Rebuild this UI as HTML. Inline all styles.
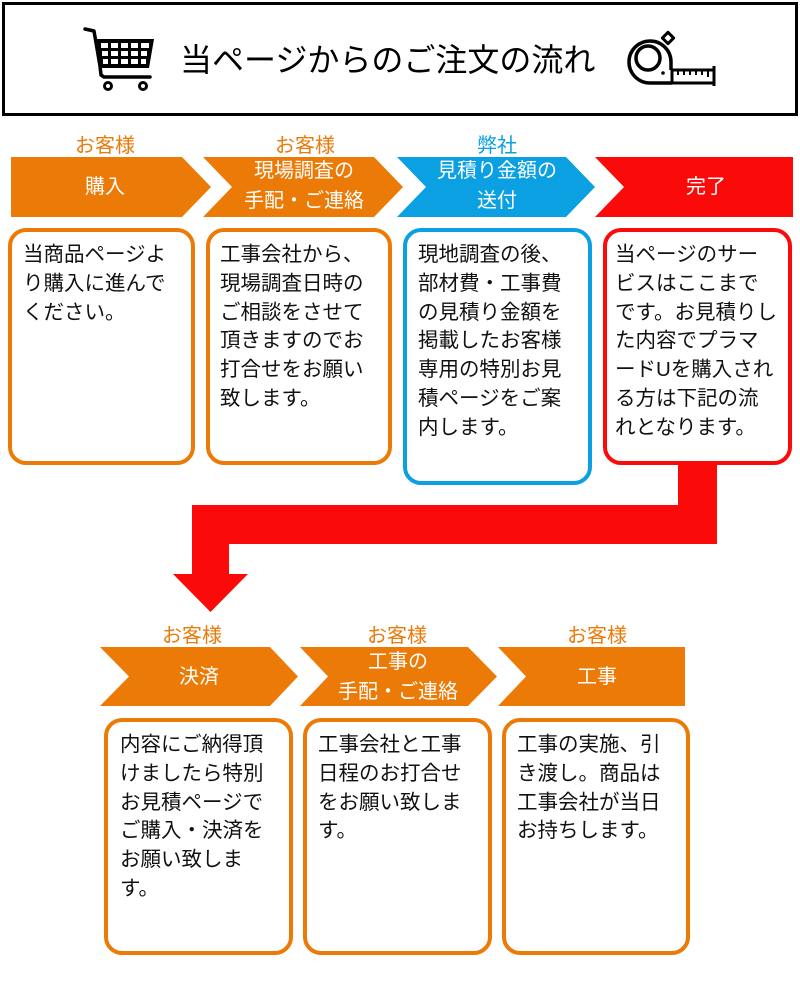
<!DOCTYPE html>
<html><head><meta charset="utf-8">
<style>
html,body{margin:0;padding:0;background:#fff;}
body{width:800px;height:1000px;position:relative;overflow:hidden;font-family:"Liberation Sans","Noto Sans CJK JP",sans-serif;}
svg{position:absolute;left:0;top:0;}
.t{position:absolute;white-space:nowrap;}
.lab{position:absolute;width:120px;text-align:center;font-size:20px;line-height:24px;color:#EA7A0A;}
.cv{position:absolute;width:200px;text-align:center;font-size:20px;line-height:30px;color:#fff;}
.bx{position:absolute;font-size:20.5px;line-height:28.8px;color:#111;white-space:nowrap;}
</style></head><body>
<svg width="800" height="1000" viewBox="0 0 800 1000">
  <!-- header box -->
  <rect x="3.5" y="3.5" width="793" height="111" fill="#fff" stroke="#000" stroke-width="3"/>
  <!-- cart -->
  <g fill="none" stroke="#000" stroke-width="3.5" stroke-linecap="round" stroke-linejoin="round">
    <polyline points="85,29 94,31 100,66 101,75 104,77 150,77"/>
    <circle cx="108" cy="86" r="3.5" stroke-width="3"/>
    <circle cx="143" cy="86" r="3.5" stroke-width="3"/>
  </g>
  <polygon points="96,39 154,39 149,68 101,68" fill="#000"/>
  <g fill="#fff">
    <rect x="101" y="43" width="7" height="5"/><rect x="111" y="43" width="7" height="5"/><rect x="121" y="43" width="7" height="5"/><rect x="131" y="43" width="7" height="5"/><rect x="141" y="43" width="8" height="5"/>
    <rect x="102" y="51" width="6" height="5"/><rect x="111" y="51" width="7" height="5"/><rect x="121" y="51" width="7" height="5"/><rect x="131" y="51" width="7" height="5"/><rect x="141" y="51" width="6" height="5"/>
    <rect x="103" y="59" width="5" height="5"/><rect x="111" y="59" width="7" height="5"/><rect x="121" y="59" width="7" height="5"/><rect x="131" y="59" width="7" height="5"/><rect x="141" y="59" width="5" height="5"/>
  </g>
  <!-- tape measure -->
  <g fill="none" stroke="#000" stroke-width="3.5" stroke-linejoin="round">
    <path d="M671,62 A21,21 0 1 0 650,83 L672,83"/>
    <path d="M671,62 L671,70"/>
    <circle cx="648" cy="58" r="12"/>
    <rect x="672" y="70" width="42" height="13" stroke-width="3"/>
    <line x1="714" y1="66" x2="714" y2="86" stroke-width="3"/>
    <rect x="664" y="34" width="8" height="8" transform="rotate(45 668 38)" stroke-width="3"/>
  </g>
  <g stroke="#000" stroke-width="2">
    <line x1="678" y1="70" x2="678" y2="75"/><line x1="684" y1="70" x2="684" y2="75"/><line x1="690" y1="70" x2="690" y2="75"/><line x1="696" y1="70" x2="696" y2="75"/><line x1="702" y1="70" x2="702" y2="75"/><line x1="708" y1="70" x2="708" y2="77"/>
  </g>
  <circle cx="663" cy="73" r="1.8" fill="#000"/>

  <!-- top chevrons -->
  <polygon points="11,157 182,157 211,187 182,217 11,217" fill="#EC7A06"/>
  <polygon points="203,157 374,157 403,187 374,217 203,217 232,187" fill="#EC7A06"/>
  <polygon points="397,157 566,157 595,187 566,217 397,217 426,187" fill="#0AA0E2"/>
  <polygon points="595,157 793,157 793,217 595,217 624,187" fill="#FB0A0A"/>

  <!-- top boxes -->
  <rect x="10" y="230" width="183" height="233" rx="16" fill="#fff" stroke="#EC7A06" stroke-width="4"/>
  <rect x="208" y="230" width="182" height="233" rx="16" fill="#fff" stroke="#EC7A06" stroke-width="4"/>
  <rect x="405" y="230" width="185" height="253" rx="16" fill="#fff" stroke="#0AA0E2" stroke-width="4"/>

  <!-- red connector -->
  <rect x="678" y="462" width="39" height="82" fill="#FB0A0A"/>
  <rect x="192" y="505" width="525" height="39" fill="#FB0A0A"/>
  <rect x="192" y="505" width="37" height="70" fill="#FB0A0A"/>
  <polygon points="173,574 248,574 210.5,612" fill="#FB0A0A"/>
  <rect x="605" y="230" width="185" height="233" rx="16" fill="#fff" stroke="#FB0A0A" stroke-width="4"/>

  <!-- bottom chevrons -->
  <polygon points="100,647 270,647 298,676.5 270,706 100,706 129,676.5" fill="#EC7A06"/>
  <polygon points="300,647 468,647 497,676.5 468,706 300,706 328,676.5" fill="#EC7A06"/>
  <polygon points="498,647 685,647 685,706 498,706 526,676.5" fill="#EC7A06"/>

  <!-- bottom boxes -->
  <rect x="106" y="720" width="185" height="233" rx="16" fill="#fff" stroke="#EC7A06" stroke-width="4"/>
  <rect x="305" y="720" width="185" height="233" rx="16" fill="#fff" stroke="#EC7A06" stroke-width="4"/>
  <rect x="504" y="720" width="184" height="233" rx="16" fill="#fff" stroke="#EC7A06" stroke-width="4"/>
</svg>

<div class="t" style="left:180px;top:40px;font-size:32px;line-height:40px;color:#000;">当ページからのご注文の流れ</div>

<!-- top labels -->
<div class="lab" style="left:45px;top:134px;">お客様</div>
<div class="lab" style="left:245px;top:134px;">お客様</div>
<div class="lab" style="left:437px;top:134px;color:#0AA0E2;">弊社</div>

<!-- top chevron text -->
<div class="cv" style="left:5px;top:172px;">購入</div>
<div class="cv" style="left:204px;top:156px;">現場調査の<br>手配・ご連絡</div>
<div class="cv" style="left:397px;top:156px;">見積り金額の<br>送付</div>
<div class="cv" style="left:606px;top:172px;">完了</div>

<!-- top box text -->
<div class="bx" style="left:23px;top:241px;">当商品ページよ<br>り購入に進んで<br>ください。</div>
<div class="bx" style="left:220px;top:241px;">工事会社から、<br>現場調査日時の<br>ご相談をさせて<br>頂きますのでお<br>打合せをお願い<br>致します。</div>
<div class="bx" style="left:418px;top:241px;">現地調査の後、<br>部材費・工事費<br>の見積り金額を<br>掲載したお客様<br>専用の特別お見<br>積ページをご案<br>内します。</div>
<div class="bx" style="left:615px;top:241px;">当ページのサー<br>ビスはここまで<br>です。お見積りし<br>た内容でプラマ<br>ードUを購入され<br>る方は下記の流<br>れとなります。</div>

<!-- bottom labels -->
<div class="lab" style="left:132px;top:624px;">お客様</div>
<div class="lab" style="left:337px;top:624px;">お客様</div>
<div class="lab" style="left:537px;top:624px;">お客様</div>

<!-- bottom chevron text -->
<div class="cv" style="left:99px;top:662px;">決済</div>
<div class="cv" style="left:298px;top:647px;">工事の<br>手配・ご連絡</div>
<div class="cv" style="left:497px;top:662px;">工事</div>

<!-- bottom box text -->
<div class="bx" style="left:120px;top:731px;">内容にご納得頂<br>けましたら特別<br>お見積ページで<br>ご購入・決済を<br>お願い致しま<br>す。</div>
<div class="bx" style="left:318px;top:731px;">工事会社と工事<br>日程のお打合せ<br>をお願い致しま<br>す。</div>
<div class="bx" style="left:517px;top:731px;">工事の実施、引<br>き渡し。商品は<br>工事会社が当日<br>お持ちします。</div>
</body></html>
